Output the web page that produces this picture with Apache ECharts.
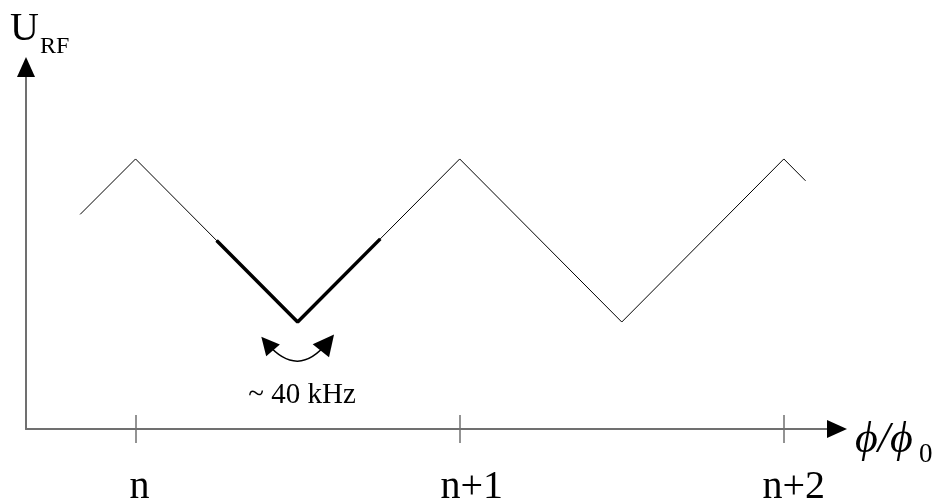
<!DOCTYPE html>
<html>
<head>
<meta charset="utf-8">
<script src="https://cdn.jsdelivr.net/npm/echarts@6/dist/echarts.min.js"></script>
<style>html,body{margin:0;padding:0;background:#fff;}#c{width:939px;height:501px;}</style>
</head>
<body>
<div id="c"></div>
<script>
// ---- data (x in flux periods, y in relative U_RF units) ----
var tickValues = [0, 1, 2];
var tickLabels = ['n', 'n+1', 'n+2'];
var waveX = [-0.171, 0, 0.5, 1, 1.5, 2, 2.067];
var waveY = [0.66, 1, 0, 1, 0, 1, 0.866];
var thickX = [0.25, 0.5, 0.755];
var thickY = [0.5, 0, 0.51];
var arcStart = [0.406, -0.132];
var arcEnd = [0.592, -0.126];
var xMin = -0.338, xMax = 2.164;
var yMin = -0.656, yMax = 1.564;
var freqLabel = '~ 40 kHz';

function pairs(xs, ys) { return xs.map(function (x, i) { return [x, ys[i]]; }); }

var axisColor = '#707070';
var serif = '"Liberation Serif", "Times New Roman", "DejaVu Serif", serif';
var labelStyle = {fontFamily: serif, fontSize: 40, color: '#000'};

var chart = echarts.init(document.getElementById('c'), null, {renderer: 'canvas'});
var gridBox = {left: 26, right: 102, top: 67, bottom: 72, containLabel: false, outerBoundsMode: 'none'};
chart.setOption({
  animation: false,
  backgroundColor: '#fff',
  grid: [Object.assign({}, gridBox), Object.assign({}, gridBox)],
  xAxis: [{
    type: 'value', gridIndex: 0, min: xMin, max: xMax,
    axisLine: {show: true, onZero: false, lineStyle: {color: axisColor, width: 2}},
    axisTick: {show: true, inside: false, length: 14, customValues: tickValues, lineStyle: {color: axisColor, width: 1.5}},
    axisLabel: {show: true, customValues: tickValues, margin: 38, color: '#000', fontFamily: serif, fontSize: 40,
      formatter: function (v) {
        var i = tickValues.indexOf(Math.round(v));
        if (i < 0) return '';
        return '{l' + i + '|' + tickLabels[i] + '}';
      },
      rich: {
        l0: Object.assign({padding: [0, 0, 0, 8]}, labelStyle),
        l1: Object.assign({padding: [0, 0, 0, 24]}, labelStyle),
        l2: Object.assign({padding: [0, 0, 0, 20]}, labelStyle)
      }},
    splitLine: {show: false}
  }, {
    type: 'value', gridIndex: 1, min: xMin, max: xMax,
    axisLine: {show: false, onZero: false},
    axisTick: {show: true, inside: true, length: 14, customValues: tickValues, lineStyle: {color: axisColor, width: 1.5}},
    axisLabel: {show: false},
    splitLine: {show: false}
  }],
  yAxis: [{
    type: 'value', gridIndex: 0, min: yMin, max: yMax,
    axisLine: {show: true, onZero: false, lineStyle: {color: axisColor, width: 2}},
    axisTick: {show: false}, axisLabel: {show: false}, splitLine: {show: false}
  }, {
    type: 'value', gridIndex: 1, min: yMin, max: yMax,
    axisLine: {show: false}, axisTick: {show: false}, axisLabel: {show: false}, splitLine: {show: false}
  }],
  series: [{
    type: 'line', xAxisIndex: 0, yAxisIndex: 0, data: pairs(waveX, waveY),
    symbol: 'none', lineStyle: {color: '#000', width: 1}, z: 3
  }, {
    type: 'line', xAxisIndex: 0, yAxisIndex: 0, data: pairs(thickX, thickY),
    symbol: 'none', lineStyle: {color: '#000', width: 3.5}, z: 4
  }, {
    type: 'lines', coordinateSystem: 'cartesian2d', xAxisIndex: 0, yAxisIndex: 0,
    data: [{coords: [arcStart, arcEnd]}],
    symbol: ['triangle', 'triangle'], symbolSize: [18, 21],
    lineStyle: {color: '#000', width: 1.5, curveness: -0.6, opacity: 1},
    itemStyle: {color: '#000'}, z: 5
  }, {
    type: 'scatter', xAxisIndex: 0, yAxisIndex: 0, clip: false,
    data: [[xMax, yMin]], symbol: 'triangle', symbolSize: [18, 20], symbolRotate: -90,
    itemStyle: {color: '#000', opacity: 1}, z: 6
  }, {
    type: 'scatter', xAxisIndex: 0, yAxisIndex: 0, clip: false,
    data: [[xMin, yMax]], symbol: 'triangle', symbolSize: [18, 20], symbolRotate: 0,
    itemStyle: {color: '#000', opacity: 1}, z: 6
  }],
  graphic: [
    {type: 'text', x: 10, y: 29, style: {text: 'U', font: '40px ' + serif, fill: '#000', textAlign: 'left', textVerticalAlign: 'middle', verticalAlign: 'middle'}},
    {type: 'text', x: 40, y: 47, style: {text: 'RF', font: '24px ' + serif, fill: '#000', textAlign: 'left', textVerticalAlign: 'middle', verticalAlign: 'middle'}},
    {type: 'text', x: 855, y: 440, style: {text: 'ϕ/ϕ', font: 'italic 44px ' + serif, fill: '#000', textAlign: 'left', textVerticalAlign: 'middle', verticalAlign: 'middle'}},
    {type: 'text', x: 919, y: 455, style: {text: '0', font: '27px ' + serif, fill: '#000', textAlign: 'left', textVerticalAlign: 'middle', verticalAlign: 'middle'}},
    {type: 'text', x: 302, y: 395, style: {text: freqLabel, font: '29px ' + serif, fill: '#000', textAlign: 'center', textVerticalAlign: 'middle', verticalAlign: 'middle'}}
  ]
});
</script>
</body>
</html>
